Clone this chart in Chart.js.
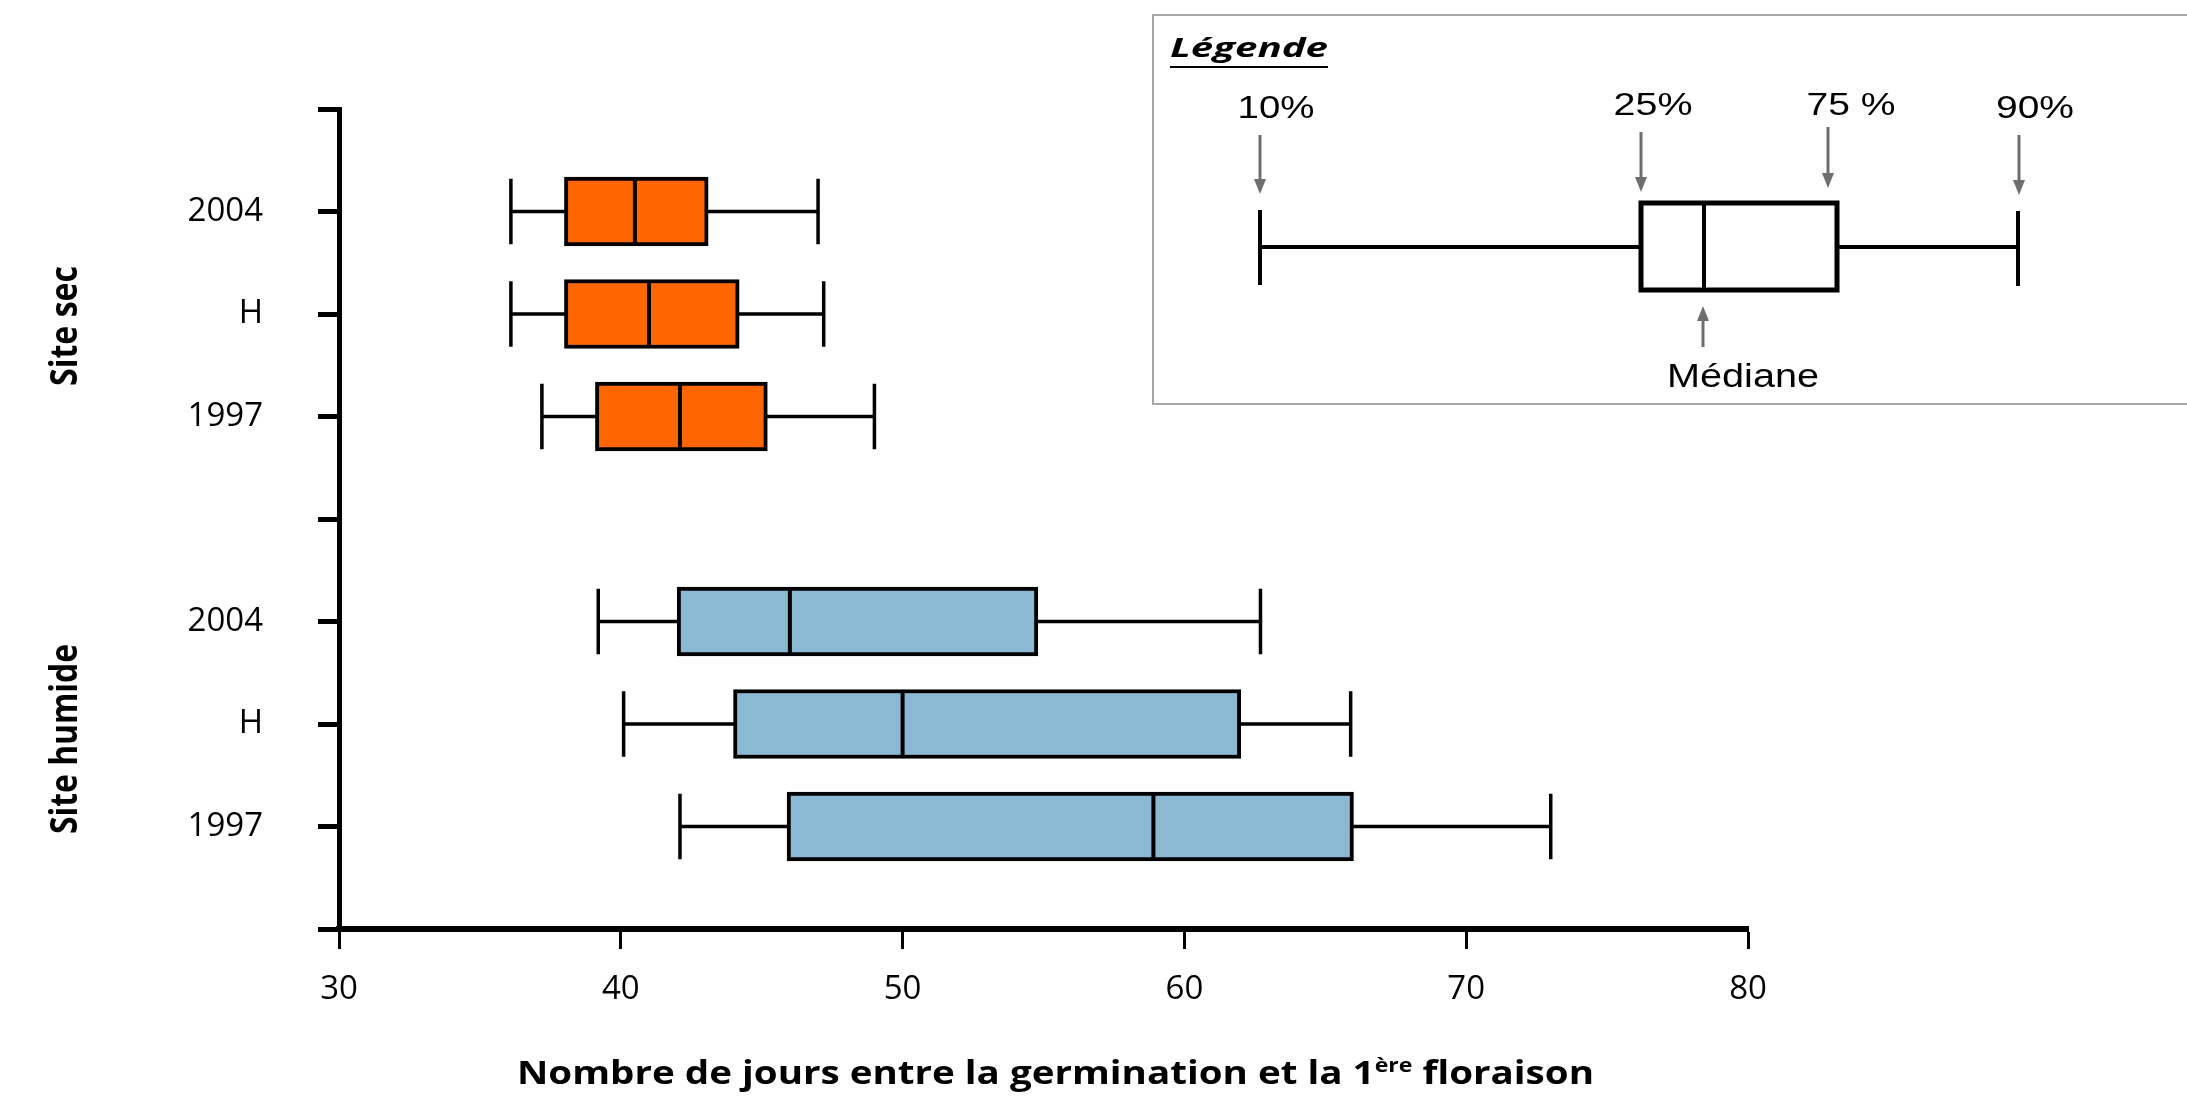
<!DOCTYPE html>
<html lang="fr">
<head>
    <meta charset="UTF-8">
    <title>Germination et 1ère floraison</title>
    <style>
        body {
            margin: 0;
            background: #fff;
        }
        .chart-box {
            position: relative;
            width: 2187px;
            height: 1097px;
        }
    </style>
</head>
<body>
    <div class="chart-box">
        <canvas id="boxChart"></canvas>
    </div>

    <script src="https://cdn.jsdelivr.net/npm/chart.js"></script>
    <script>
        // libellés de l'axe vertical, valeur 0 en bas jusqu'à 8 en haut
        const yTickLabels = ['', '1997', 'H', '2004', '', '1997', 'H', '2004', ''];
        const xMin = 30, xMax = 80, xStep = 10;
        const groups = ['Site sec', 'Site humide'];

        // une boîte par ligne : site sec 2004, H, 1997 puis site humide 2004, H, 1997
        const rowSlot = [7, 6, 5, 3, 2, 1];
        const rowGroup = [0, 0, 0, 1, 1, 1];
        const p10 = [36.1, 36.1, 37.2, 39.2, 40.1, 42.1];
        const q25 = [38.0, 38.0, 39.1, 42.0, 44.0, 45.9];
        const median = [40.5, 41.0, 42.1, 46.0, 50.0, 58.9];
        const q75 = [43.1, 44.2, 45.2, 54.8, 62.0, 66.0];
        const p90 = [47.0, 47.2, 49.0, 62.7, 65.9, 73.0];

        const legendLabels = ['10%', '25%', '75 %', '90%'];
        const medianLabel = 'Médiane';

        const groupColors = ['#FF6600', '#8BB9D4'];
        const HALF = 0.32; // demi-hauteur des traits (en unités de ligne)

        function gap() { return {x: null, y: null}; }

        const whiskerPts = [];
        const medianPts = [];
        rowSlot.forEach((s, i) => {
            whiskerPts.push({x: p10[i], y: s}, {x: p90[i], y: s}, gap());
            whiskerPts.push({x: p10[i], y: s - HALF}, {x: p10[i], y: s + HALF}, gap());
            whiskerPts.push({x: p90[i], y: s - HALF}, {x: p90[i], y: s + HALF}, gap());
            medianPts.push({x: median[i], y: s - 0.33}, {x: median[i], y: s + 0.33}, gap());
        });

        // texte étiré pour coller à la largeur de l'original
        function fitText(ctx, text, x, y, width, font, opts) {
            opts = opts || {};
            ctx.save();
            ctx.font = font;
            const w = ctx.measureText(text).width;
            ctx.translate(x, y);
            if (opts.rotate) ctx.rotate(opts.rotate);
            ctx.scale(width / w, opts.sy || 1);
            ctx.textAlign = 'center';
            ctx.textBaseline = opts.baseline || 'middle';
            ctx.fillStyle = '#000';
            ctx.fillText(text, 0, 0);
            ctx.restore();
        }

        function arrow(ctx, x, y1, y2) {
            const dir = Math.sign(y2 - y1);
            ctx.beginPath();
            ctx.moveTo(x, y1);
            ctx.lineTo(x, y2 - dir * 12);
            ctx.stroke();
            ctx.beginPath();
            ctx.moveTo(x - 6, y2 - dir * 15);
            ctx.lineTo(x + 6, y2 - dir * 15);
            ctx.lineTo(x, y2);
            ctx.closePath();
            ctx.fill();
        }

        const extrasPlugin = {
            id: 'extras',
            afterDraw(chart) {
                const ctx = chart.ctx;
                const xs = chart.scales.x, ys = chart.scales.y;

                // noms des sites, verticaux
                const gLen = [120, 190];
                const gOff = [12, 15];
                groups.forEach((g, gi) => {
                    const slots = rowSlot.filter((s, i) => rowGroup[i] === gi);
                    const mid = slots.reduce((a, b) => a + b, 0) / slots.length;
                    fitText(ctx, g, 66, ys.getPixelForValue(mid) + gOff[gi], gLen[gi],
                        'bold 30px "Open Sans"', {rotate: -Math.PI / 2, sy: 1.25});
                });

                // titre de l'axe horizontal avec exposant
                ctx.save();
                const part1 = 'Nombre de jours entre la germination et la 1';
                const sup = 'ère';
                const part2 = ' floraison';
                const big = 'bold 30px "Open Sans"', small = 'bold 18px "Open Sans"';
                ctx.font = big;
                const w1 = ctx.measureText(part1).width, w3 = ctx.measureText(part2).width;
                ctx.font = small;
                const w2 = ctx.measureText(sup).width;
                const total = w1 + w2 + w3;
                const target = 1077;
                const cx = (xs.left + xs.right) / 2 + 12;
                ctx.translate(cx - target / 2, 1084);
                ctx.scale(target / total, 1.1);
                ctx.fillStyle = '#000';
                ctx.textBaseline = 'alphabetic';
                ctx.textAlign = 'left';
                ctx.font = big;
                ctx.fillText(part1, 0, 0);
                ctx.font = small;
                ctx.fillText(sup, w1, -11);
                ctx.font = big;
                ctx.fillText(part2, w1 + w2, 0);
                ctx.restore();

                // cadre de légende
                ctx.save();
                ctx.strokeStyle = '#a6a6a6';
                ctx.lineWidth = 2;
                ctx.strokeRect(1153, 15, 1100, 389);

                fitText(ctx, 'Légende', 1249, 57, 158, 'italic bold 27px "Open Sans"', {baseline: 'alphabetic'});
                ctx.fillStyle = '#000';
                ctx.fillRect(1170, 66, 158, 2);

                const lx = [1276, 1653, 1851, 2035];
                const lw = [77, 79, 89, 78];
                const lb = [118, 115, 115, 118];
                legendLabels.forEach((t, i) => {
                    fitText(ctx, t, lx[i], lb[i], lw[i], '32px "Liberation Sans"', {baseline: 'alphabetic'});
                });
                fitText(ctx, medianLabel, 1743, 387, 152, '33px "Liberation Sans"', {baseline: 'alphabetic'});

                ctx.strokeStyle = '#6e6e6e';
                ctx.fillStyle = '#6e6e6e';
                ctx.lineWidth = 3;
                arrow(ctx, 1260, 135, 194);
                arrow(ctx, 1641, 132, 192);
                arrow(ctx, 1828, 127, 188);
                arrow(ctx, 2019, 135, 195);
                arrow(ctx, 1703, 347, 306);

                // boîte d'exemple
                ctx.strokeStyle = '#000';
                ctx.lineWidth = 4;
                ctx.beginPath();
                ctx.moveTo(1260, 247); ctx.lineTo(2018, 247);
                ctx.moveTo(1260, 210); ctx.lineTo(1260, 285);
                ctx.moveTo(2018, 211); ctx.lineTo(2018, 286);
                ctx.stroke();
                ctx.fillStyle = '#fff';
                ctx.fillRect(1641, 203, 196, 87);
                ctx.lineWidth = 5;
                ctx.strokeRect(1641, 203, 196, 87);
                ctx.lineWidth = 4;
                ctx.beginPath();
                ctx.moveTo(1704, 203); ctx.lineTo(1704, 290);
                ctx.stroke();
                ctx.restore();
            }
        };

        const tickFont = {family: '"Open Sans"', size: 33};

        new Chart(document.getElementById('boxChart'), {
            type: 'bar',
            data: {
                datasets: [{
                    type: 'scatter',
                    data: whiskerPts,
                    showLine: true,
                    spanGaps: false,
                    borderColor: '#000',
                    borderWidth: 3.5,
                    pointRadius: 0,
                    order: 3
                }, {
                    type: 'bar',
                    data: rowSlot.map((s, i) => ({x: [q25[i], q75[i]], y: s})),
                    backgroundColor: rowGroup.map(g => groupColors[g]),
                    borderColor: '#000',
                    borderWidth: 4,
                    borderSkipped: false,
                    barThickness: 69,
                    order: 2
                }, {
                    type: 'scatter',
                    data: medianPts,
                    showLine: true,
                    spanGaps: false,
                    borderColor: '#000',
                    borderWidth: 4,
                    pointRadius: 0,
                    order: 1
                }]
            },
            options: {
                indexAxis: 'y',
                responsive: true,
                maintainAspectRatio: false,
                animation: false,
                layout: {
                    padding: {left: 0, right: 439, top: 109, bottom: 0}
                },
                plugins: {
                    legend: {display: false},
                    tooltip: {enabled: false}
                },
                scales: {
                    x: {
                        type: 'linear',
                        position: 'bottom',
                        min: xMin,
                        max: xMax,
                        offset: false,
                        ticks: {
                            stepSize: xStep,
                            color: '#000',
                            font: tickFont,
                            padding: 21,
                            maxRotation: 0
                        },
                        grid: {
                            offset: false,
                            drawOnChartArea: false,
                            drawTicks: true,
                            tickLength: 20,
                            tickWidth: 3,
                            tickColor: '#000',
                            color: '#000'
                        },
                        border: {display: true, color: '#000', width: 6},
                        afterFit(scale) { scale.height = 168; }
                    },
                    y: {
                        type: 'linear',
                        position: 'left',
                        min: 0,
                        max: yTickLabels.length - 1,
                        offset: false,
                        ticks: {
                            stepSize: 1,
                            color: '#000',
                            font: tickFont,
                            padding: 55,
                            callback: v => yTickLabels[v] || ''
                        },
                        grid: {
                            offset: false,
                            drawOnChartArea: false,
                            drawTicks: true,
                            tickLength: 21,
                            tickWidth: 5,
                            tickColor: '#000',
                            color: '#000'
                        },
                        border: {display: true, color: '#000', width: 5},
                        afterFit(scale) { scale.width = 339; }
                    }
                }
            },
            plugins: [extrasPlugin]
        });
    </script>
</body>
</html>
